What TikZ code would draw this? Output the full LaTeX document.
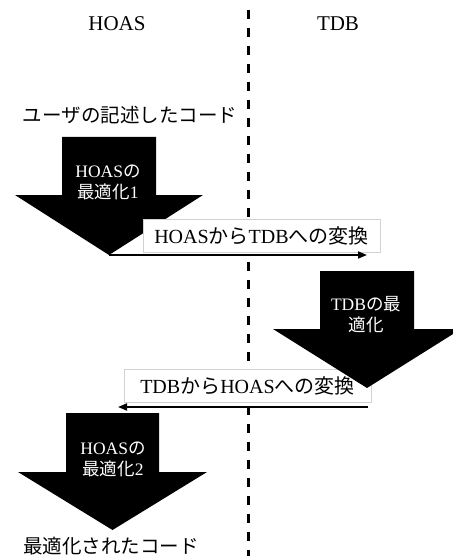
\documentclass[tikz,border=0pt]{standalone}
\usepackage{fontspec}
\setmainfont{Liberation Serif}
\newfontfamily\jp{Noto Sans CJK JP}
\usetikzlibrary{arrows.meta}
\begin{document}
\begin{tikzpicture}[x=1pt,y=-1pt,
  blockarrow/.style={fill=black},
  title/.style={font=\fontsize{21}{25}\selectfont, inner sep=0pt},
  code/.style={font=\fontsize{19.5}{23}\selectfont\jp, inner sep=0pt},
  inarrow/.style={text=white, align=center, inner sep=0pt, font=\fontsize{17.5}{21}\selectfont},
  convbox/.style={draw=black!18, line width=0.6pt, fill=white, inner sep=0pt, minimum height=33pt, font=\fontsize{20}{24}\selectfont},
  conv/.style={line width=1.8pt, -{Triangle[length=9pt,width=7pt]}},
  divider/.style={line width=3pt, dash pattern=on 9pt off 9pt}]
\useasboundingbox (0,0) rectangle (452,556);
\fill[white] (0,0) rectangle (452,556);

% divider
\coordinate (dtop) at (248,10);
\coordinate (dbot) at (248,556);
\draw[divider] (dtop) -- (dbot);

% titles
\node[title] (hoas) at (117,24) {HOAS};
\node[title] (tdb) at (338,24) {TDB};

% user code
\node[code] (src) at (130,115) {ユーザの記述したコード};

% block arrow 1
\fill[blockarrow] (62,137) -- (156,137) -- (156,195) -- (203,195) -- (109,255) -- (15,195) -- (62,195) -- cycle;
\node[inarrow] (opt1) at (108,182) {HOAS{\jp の}\\{\jp 最適化}1};
\coordinate (tip1) at (109,255);
\coordinate (end1) at (367,255);

% conversion 1
\node[convbox, minimum width=237pt] (c1) at (261.5,235.5) {HOAS{\jp から}TDB{\jp への変換}};
\draw[conv] (tip1) -- (end1);

% conversion 2 box
\node[convbox, minimum width=247pt] (c2) at (247.5,385.5) {TDB{\jp から}HOAS{\jp への変換}};

% block arrow 2
\fill[blockarrow] (320,271) -- (414,271) -- (414,329) -- (461,329) -- (367,388) -- (273,329) -- (320,329) -- cycle;
\node[inarrow] (opt2) at (366,315) {TDB{\jp の最}\\{\jp 適化}};
\coordinate (s2) at (368,407);
\coordinate (e2) at (118,407);
\draw[conv] (s2) -- (e2);

% block arrow 3
\fill[blockarrow] (66,413) -- (159,413) -- (159,472) -- (207,472) -- (112.5,530) -- (18,472) -- (66,472) -- cycle;
\node[inarrow] (opt3) at (113,459) {HOAS{\jp の}\\{\jp 最適化}2};

% result
\node[code] (dst) at (111,546) {最適化されたコード};
\end{tikzpicture}
\end{document}
